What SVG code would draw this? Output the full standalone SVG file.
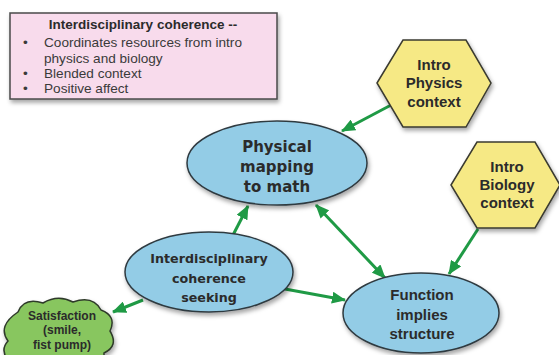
<svg xmlns="http://www.w3.org/2000/svg" width="559" height="355" viewBox="0 0 559 355">
<style>
.ell{fill:#93cce6;stroke:#2f3a40;stroke-width:1.5}
.hex{fill:#f6e985;stroke:#3a3a30;stroke-width:1.5}
.nt{font-family:"DejaVu Sans",Verdana,sans-serif;font-weight:bold;fill:#2b2b2b;text-anchor:middle}
.at{font-family:"Liberation Sans",Arial,sans-serif;font-weight:bold;fill:#2b2b2b;text-anchor:middle}
.bt{font-family:"Liberation Sans",Arial,sans-serif;fill:#3a3a3a;font-size:13.6px}
.con{stroke:#1f9a45;stroke-width:3;fill:none}
</style>
<defs>
<filter id="sh" x="-20%" y="-20%" width="140%" height="150%">
<feDropShadow dx="1.5" dy="3" stdDeviation="2" flood-color="#000" flood-opacity="0.35"/>
</filter>
<marker id="ah" viewBox="0 0 14 12" refX="13" refY="6" markerWidth="14" markerHeight="12" markerUnits="userSpaceOnUse" orient="auto-start-reverse">
<path d="M0,0 L14,6 L0,12 Z" fill="#1f9a45"/>
</marker>
</defs>

<g id="note">
<rect x="10" y="13" width="267" height="86" fill="#f8dbec" stroke="#4a4a4a" stroke-width="1.5" filter="url(#sh)"/>
<text x="143" y="29" font-family="Liberation Sans,Arial,sans-serif" font-weight="bold" font-size="13.5" fill="#2b2b2b" text-anchor="middle">Interdisciplinary coherence --</text>
<text class="bt" x="23" y="47">•</text>
<text class="bt" x="44" y="47">Coordinates resources from intro</text>
<text class="bt" x="44" y="63">physics and biology</text>
<text class="bt" x="23" y="78">•</text>
<text class="bt" x="44" y="78">Blended context</text>
<text class="bt" x="23" y="93">•</text>
<text class="bt" x="44" y="93">Positive affect</text>
</g>

<g id="connectors">
<line class="con" x1="393" y1="104" x2="342" y2="131" marker-end="url(#ah)"/>
<line class="con" x1="232" y1="237" x2="248" y2="206" marker-end="url(#ah)"/>
<line class="con" x1="316" y1="205" x2="385" y2="278" marker-start="url(#ah)" marker-end="url(#ah)"/>
<line class="con" x1="285" y1="289" x2="345" y2="300" marker-end="url(#ah)"/>
<line class="con" x1="478" y1="229" x2="449" y2="274" marker-end="url(#ah)"/>
<line class="con" x1="143" y1="300" x2="113" y2="312" marker-end="url(#ah)"/>
</g>

<g id="physical-mapping">
<ellipse class="ell" cx="277" cy="163" rx="90" ry="42" filter="url(#sh)"/>
<text class="nt" font-size="15" x="277" y="152">Physical</text>
<text class="nt" font-size="15" x="277" y="172">mapping</text>
<text class="nt" font-size="15" x="277" y="192">to math</text>
</g>

<g id="intro-physics">
<polygon class="hex" points="377,83 403,40 466,40 491,83 466,127 403,127" filter="url(#sh)"/>
<text class="at" font-size="15" x="434" y="70">Intro</text>
<text class="at" font-size="15" x="434" y="88">Physics</text>
<text class="at" font-size="15" x="434" y="107">context</text>
</g>

<g id="intro-biology">
<polygon class="hex" points="451,185 477,142 535,142 560,185 535,228 477,228" filter="url(#sh)"/>
<text class="at" font-size="15" x="507" y="172">Intro</text>
<text class="at" font-size="15" x="507" y="190">Biology</text>
<text class="at" font-size="15" x="507" y="208">context</text>
</g>

<g id="coherence-seeking">
<ellipse class="ell" cx="209" cy="272" rx="84" ry="40" filter="url(#sh)"/>
<text class="nt" font-size="12.7" x="209" y="263">Interdisciplinary</text>
<text class="nt" font-size="12.7" x="209" y="283">coherence</text>
<text class="nt" font-size="12.7" x="209" y="302">seeking</text>
</g>

<g id="function-structure">
<ellipse class="ell" cx="421" cy="313" rx="78" ry="40" filter="url(#sh)"/>
<text class="at" font-size="15" x="422" y="300">Function</text>
<text class="at" font-size="15" x="422" y="320">implies</text>
<text class="at" font-size="15" x="422" y="339">structure</text>
</g>

<g id="satisfaction">
<path d="M18,312 Q24,297 43,303 Q58,294 73,302 Q93,295 101,310 Q117,316 110,331 Q119,346 104,353 L104,362 L10,362 Q-1,351 8,341 Q-3,326 18,312 Z" fill="#88c65e" stroke="#2f3a2a" stroke-width="1.5" filter="url(#sh)"/>
<text class="at" font-size="12" x="62" y="320">Satisfaction</text>
<text class="at" font-size="12" x="62" y="334">(smile,</text>
<text class="at" font-size="12" x="62" y="349">fist pump)</text>
</g>
</svg>
